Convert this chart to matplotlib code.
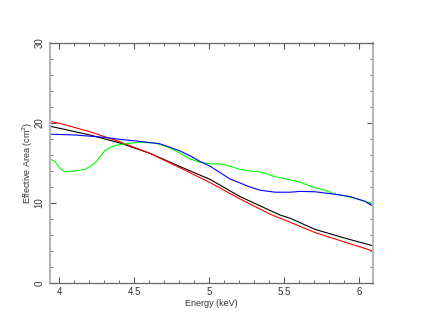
import matplotlib
matplotlib.use('Agg')
import matplotlib.pyplot as plt
from matplotlib.ticker import MultipleLocator

plt.rcParams['font.family'] = ['Liberation Sans', 'DejaVu Sans']

# energies (keV) and effective areas (cm^2)
red_e = [3.94, 4.007, 4.207, 4.407, 4.607, 4.807, 5.007, 5.207, 5.407, 5.54, 5.707, 5.907, 6.093]
red_a = [20.2, 19.95, 18.9, 17.65, 16.2, 14.4, 12.55, 10.5, 8.6, 7.6, 6.3, 5.1, 4.0]

black_e = [3.94, 4.207, 4.407, 4.607, 4.807, 5.007, 5.207, 5.473, 5.54, 5.707, 5.907, 6.093]
black_a = [19.6, 18.5, 17.5, 16.2, 14.55, 12.95, 10.8, 8.5, 8.1, 6.7, 5.6, 4.65]

blue_e = [3.94, 4.107, 4.307, 4.407, 4.54, 4.673, 4.807, 4.873, 4.94, 5.007, 5.073, 5.14,
          5.207, 5.273, 5.34, 5.44, 5.54, 5.607, 5.707, 5.84, 5.94, 6.04, 6.093]
blue_a = [18.6, 18.5, 18.2, 17.95, 17.7, 17.4, 16.5, 15.9, 15.2, 14.6, 13.8, 13.0,
          12.5, 12.0, 11.6, 11.35, 11.35, 11.45, 11.4, 11.1, 10.8, 10.2, 9.6]

green_e = [3.94, 3.973, 4.007, 4.04, 4.107, 4.173, 4.24, 4.307, 4.373, 4.44, 4.54, 4.64,
           4.74, 4.807, 4.873, 4.94, 5.007, 5.073, 5.14, 5.207, 5.273, 5.34, 5.44, 5.54,
           5.607, 5.707, 5.773, 5.84, 5.907, 6.007, 6.093]
green_a = [15.5, 15.2, 14.3, 13.9, 14.0, 14.2, 15.0, 16.6, 17.2, 17.4, 17.6, 17.5,
           16.9, 16.2, 15.5, 15.1, 14.9, 14.9, 14.6, 14.2, 14.0, 13.9, 13.3, 12.9,
           12.6, 11.9, 11.6, 11.1, 10.9, 10.4, 9.9]

fig = plt.figure(figsize=(4.23, 3.27), dpi=100)
ax = fig.add_axes([50/423, 44/327, 323/423, 240/327])

lw = 0.8
ax.plot(black_e, black_a, color='black', lw=lw)
ax.plot(red_e, red_a, color='#ff0000', lw=lw)
ax.plot(green_e, green_a, color='#00ff00', lw=lw)
ax.plot(blue_e, blue_a, color='#0000ff', lw=lw)

ax.set_xlim(3.94, 6.093)
ax.set_ylim(0, 30)

ax.xaxis.set_major_locator(MultipleLocator(0.5))
ax.xaxis.set_minor_locator(MultipleLocator(0.1))
ax.yaxis.set_major_locator(MultipleLocator(10))
ax.yaxis.set_minor_locator(MultipleLocator(2))
ax.xaxis.set_major_formatter(plt.FuncFormatter(lambda v, p: ('%g' % v)))

for side in ['left', 'right']:
    ax.spines[side].set_color('#b8b8b8')
    ax.spines[side].set_linewidth(1.6)
for side in ['top', 'bottom']:
    ax.spines[side].set_color('#666666')
    ax.spines[side].set_linewidth(0.9)

ax.tick_params(which='both', direction='in', top=True, right=True, color='#555555',
               labelsize=7, labelcolor='#333333')
ax.tick_params(which='major', length=4, width=0.8)
ax.tick_params(which='minor', length=2.5, width=0.6)
ax.tick_params(axis='x', pad=3)
ax.tick_params(axis='y', pad=4)
for lab in ax.get_yticklabels():
    lab.set_rotation(90)
    lab.set_va('center')

ax.set_xlabel('Energy (keV)', fontsize=6.5, color='#333333', labelpad=1)
ax.set_ylabel('Effective Area (cm$^2$)', fontsize=6.5, color='#333333')
ax.yaxis.set_label_coords(-0.045, 0.5)

fig.savefig('out.png', dpi=100)
